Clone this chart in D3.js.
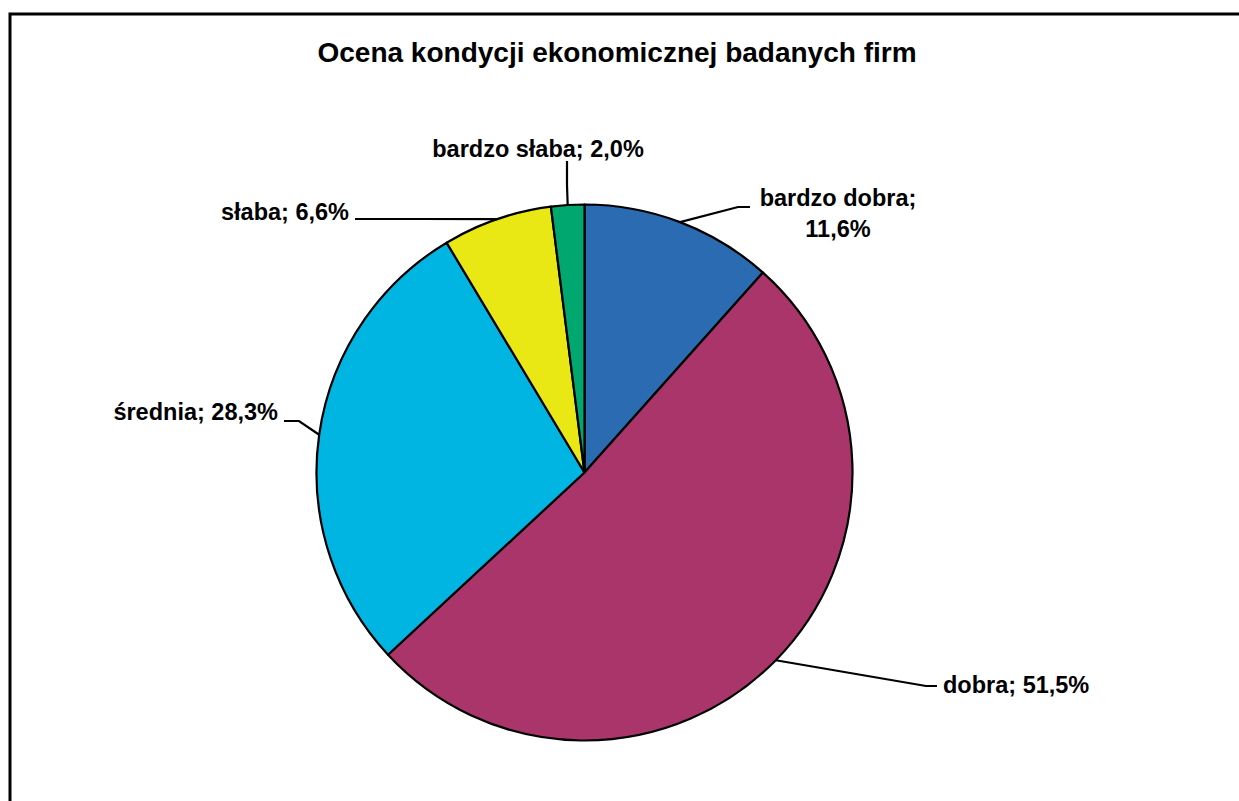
<!DOCTYPE html>
<html lang="pl">
<head>
<meta charset="utf-8">
<script src="https://cdn.jsdelivr.net/npm/d3@7"></script>
<style>
  html, body { margin: 0; padding: 0; background: #fff; }
  svg { display: block; }
  text { font-family: Arial, "Liberation Sans", sans-serif; font-weight: bold; fill: #000; }
</style>
</head>
<body>
<svg id="chart" width="1239" height="801"></svg>
<script>
// Oceny kondycji ekonomicznej (udział firm, %)
const categories = ["bardzo dobra", "dobra", "średnia", "słaba", "bardzo słaba"];
const values = [11.6, 51.5, 28.3, 6.6, 2.0];
const colors = ["#2A6BB2", "#AA356B", "#00B5E2", "#EAE814", "#00A870"];
const title = "Ocena kondycji ekonomicznej badanych firm";

// Rozmieszczenie etykiet: punkt załamania linii odniesienia, koniec linii, pozycja tekstu
const labelLayout = [
  { elbow: [738, 207], end: [750, 207], text: [838, 206], anchor: "middle", lines: 2 },
  { elbow: [926, 686], end: [937, 686], text: [943, 693], anchor: "start", lines: 1 },
  { elbow: [299, 421], end: [284, 421], text: [278, 420], anchor: "end", lines: 1 },
  { elbow: [420, 219], end: [355, 219], text: [349, 220], anchor: "end", lines: 1 },
  { elbow: [567, 185], end: [567, 161], text: [538, 157], anchor: "middle", lines: 1 }
];

const svg = d3.select("#chart");
const cx = 584.5, cy = 472.5, radius = 268;

// Ramka wykresu
svg.append("path")
  .attr("d", "M10,801 L10,14 L1239,14")
  .attr("fill", "none")
  .attr("stroke", "#000")
  .attr("stroke-width", 3);

// Tytuł
svg.append("text")
  .attr("x", 617)
  .attr("y", 62)
  .attr("text-anchor", "middle")
  .style("font-size", "28px")
  .text(title);

const data = categories.map((c, i) => ({ category: c, value: values[i], color: colors[i], layout: labelLayout[i] }));

const pie = d3.pie().sort(null).value(d => d.value);
const arcs = pie(data);
const arc = d3.arc().innerRadius(0).outerRadius(radius);
const edge = d3.arc().innerRadius(radius).outerRadius(radius);

const g = svg.append("g").attr("transform", `translate(${cx},${cy})`);

g.selectAll("path.slice")
  .data(arcs)
  .join("path")
  .attr("class", "slice")
  .attr("d", arc)
  .attr("fill", d => d.data.color)
  .attr("stroke", "#000")
  .attr("stroke-width", 2.2)
  .attr("stroke-linejoin", "round");

const fmt = v => d3.format(".1f")(v).replace(".", ",") + "%";

// Linie odniesienia od krawędzi wycinka do etykiety
svg.selectAll("polyline.leader")
  .data(arcs)
  .join("polyline")
  .attr("class", "leader")
  .attr("fill", "none")
  .attr("stroke", "#000")
  .attr("stroke-width", 2.2)
  .attr("points", d => {
    const [ex, ey] = edge.centroid(d);
    const L = d.data.layout;
    return [[cx + ex, cy + ey], L.elbow, L.end].map(p => p.join(",")).join(" ");
  });

// Etykiety danych
const labels = svg.selectAll("text.label")
  .data(arcs)
  .join("text")
  .attr("class", "label")
  .attr("x", d => d.data.layout.text[0])
  .attr("y", d => d.data.layout.text[1])
  .attr("text-anchor", d => d.data.layout.anchor)
  .style("font-size", "23.5px");

labels.each(function(d) {
  const t = d3.select(this);
  const L = d.data.layout;
  if (L.lines === 2) {
    t.append("tspan").attr("x", L.text[0]).text(d.data.category + ";");
    t.append("tspan").attr("x", L.text[0]).attr("dy", 31).text(fmt(d.data.value));
  } else {
    t.text(d.data.category + "; " + fmt(d.data.value));
  }
});
</script>
</body>
</html>
